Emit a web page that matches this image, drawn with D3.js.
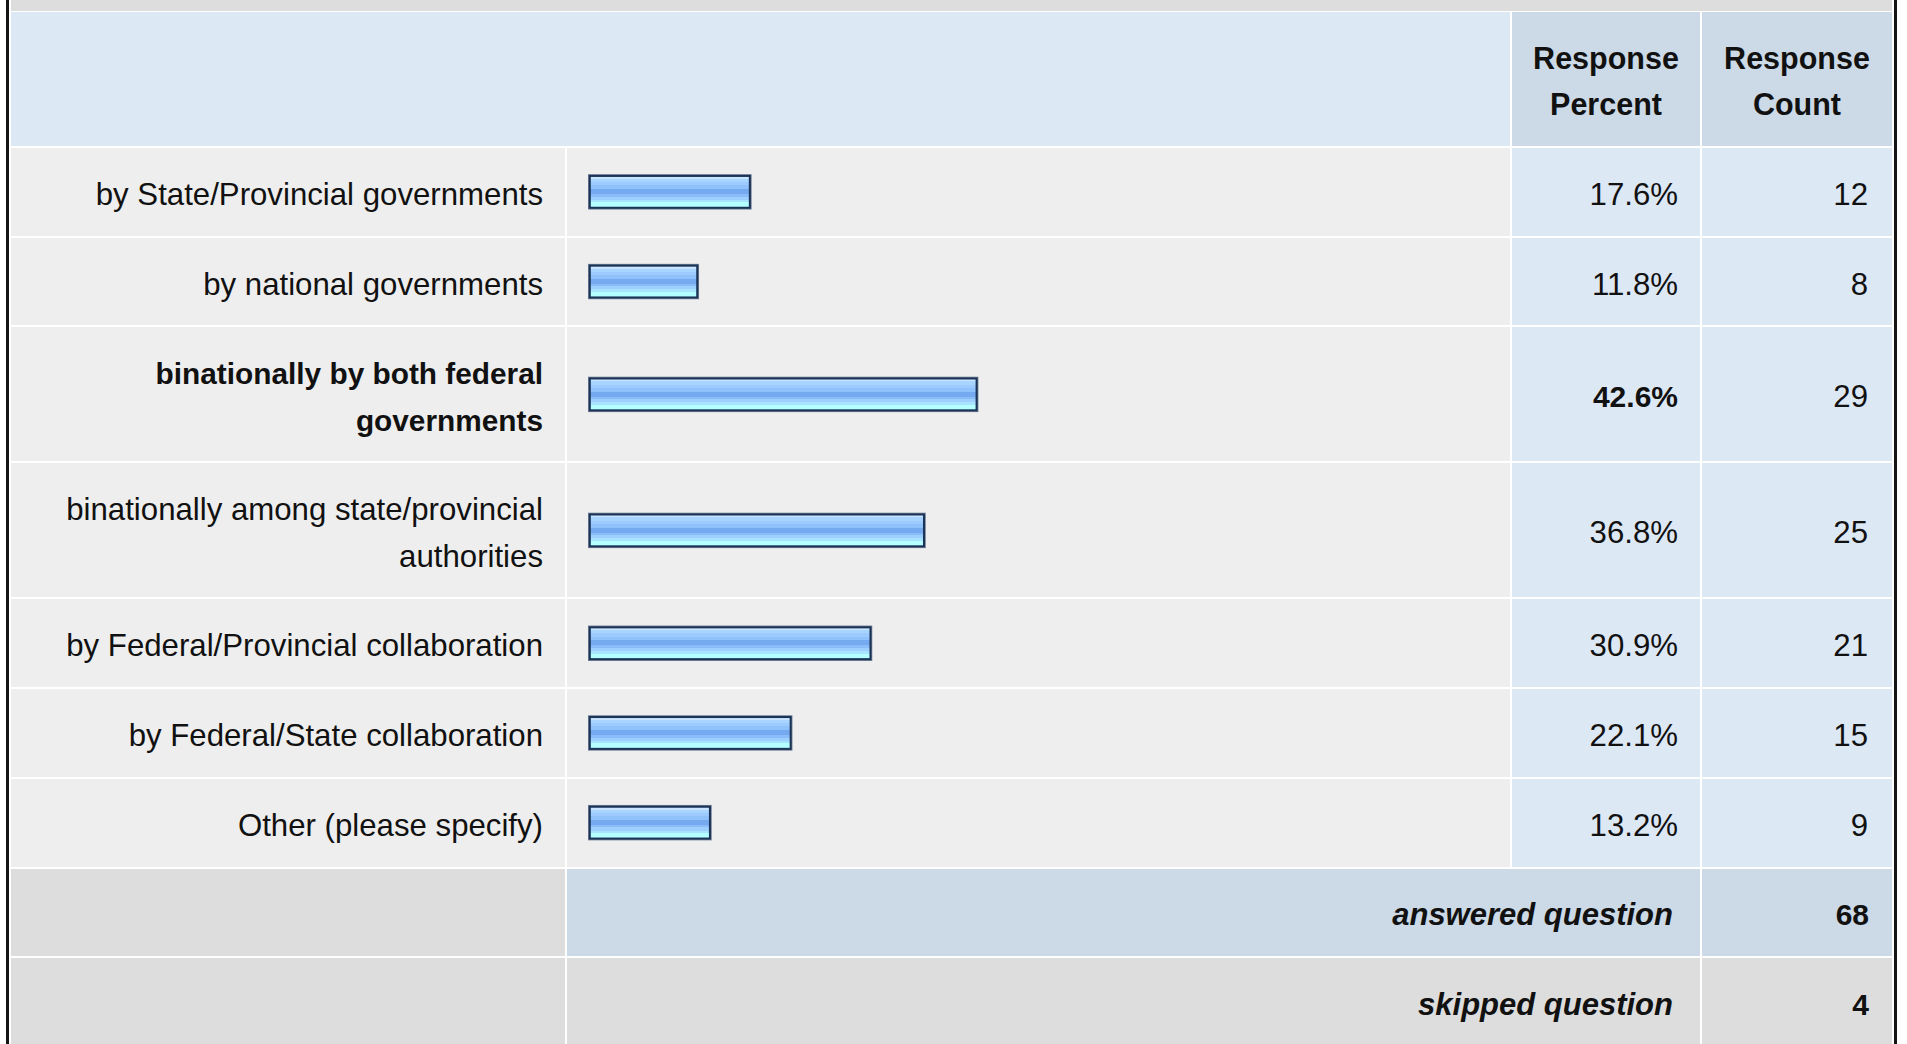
<!DOCTYPE html>
<html><head><meta charset="utf-8">
<script src="https://cdn.jsdelivr.net/npm/d3@7"></script>
<style>body{margin:0;background:#fff;overflow:hidden}</style>
</head><body>
<svg id="chart" width="1907" height="1044"></svg>
<script>
// ---- data ----
const categories = [
  "by State/Provincial governments",
  "by national governments",
  "binationally by both federal governments",
  "binationally among state/provincial authorities",
  "by Federal/Provincial collaboration",
  "by Federal/State collaboration",
  "Other (please specify)"
];
const percents = [17.6, 11.8, 42.6, 36.8, 30.9, 22.1, 13.2];
const counts = [12, 8, 29, 25, 21, 15, 9];
const headerLabels = ["Response Percent", "Response Count"];
const footerLabels = ["answered question", "skipped question"];
const footerValues = [68, 4];

// ---- layout ----
const W = 1907, H = 1044;
const FS = 31.2, FS_BOLD = 29.8, FS_HEAD = 30.5, FS_FOOT = 31;
const LH = 46.3;
const FONT = "'Liberation Sans', Arial, Helvetica, sans-serif";
const GAP = 2;
const colX = [11, 567, 1512, 1702];
const colW = [554, 943, 188, 190];
const PAD = 22;
const C_LIGHT = "#dde8f5", C_HEAD = "#ccd9e7", C_GREY = "#eeeeee", C_FOOT = "#dddddd", C_TEXT = "#111";

const svg = d3.select("#chart");

// gradient for bars
const defs = svg.append("defs");
const grad = defs.append("linearGradient").attr("id", "barGrad")
  .attr("x1", 0).attr("y1", 0).attr("x2", 0).attr("y2", 1);
const gstops = [
  [0, "#c9e4ff"], [0.064, "#c9e4ff"], [0.064, "#a8d5ff"], [0.17, "#a8d5ff"],
  [0.17, "#9dcbff"], [0.277, "#9dcbff"], [0.277, "#8fc1fb"], [0.404, "#8fc1fb"],
  [0.404, "#76aaf0"], [0.574, "#76aaf0"], [0.574, "#89bcf8"], [0.66, "#89bcf8"],
  [0.66, "#9dd0ff"], [0.766, "#9dd0ff"], [0.766, "#a8e3ff"], [0.85, "#a8e3ff"],
  [0.85, "#b4ffff"], [1, "#b4ffff"]
];
grad.selectAll("stop").data(gstops).join("stop")
  .attr("offset", d => d[0]).attr("stop-color", d => d[1]);

// measuring helper for wrapping
const meas = svg.append("text").attr("font-family", FONT).attr("visibility", "hidden");
function wrap(str, maxW, weight, fs) {
  meas.attr("font-weight", weight).attr("font-size", fs);
  const words = str.split(" ");
  const lines = [];
  let cur = "";
  words.forEach(w => {
    const t = cur ? cur + " " + w : w;
    meas.text(t);
    if (meas.node().getComputedTextLength() > maxW && cur) { lines.push(cur); cur = w; }
    else cur = t;
  });
  if (cur) lines.push(cur);
  return lines;
}
const rowH = n => 41.4 + LH * n;

const maxP = d3.max(percents);
const rows = categories.map((c, i) => {
  const bold = percents[i] === maxP;
  const lines = wrap(c, colW[0] - 2 * PAD - 10, bold ? "bold" : "normal", bold ? FS_BOLD : FS);
  return { label: c, lines, pct: percents[i], cnt: counts[i], bold };
});

// header lines
const headLines = headerLabels.map((h, k) => wrap(h, colW[2 + k] - 40, "bold", FS_HEAD));
const headerH = rowH(d3.max(headLines, l => l.length));

// vertical positions
let y = 12;
const headerY = y; y += headerH + GAP;
rows.forEach(r => { r.h = rowH(r.lines.length); r.y = y; y += r.h + GAP; });
const footY = [];
footerLabels.forEach(() => { footY.push(y); y += rowH(1) + GAP; });

const g = svg.append("g");
function cell(x, yy, w, h, fill) {
  g.append("rect").attr("x", x).attr("y", yy).attr("width", w).attr("height", h)
    .attr("fill", fill).attr("shape-rendering", "crispEdges");
}
function txt(lines, x, cy, anchor, weight, style, fs) {
  const n = lines.length;
  const t = g.append("text").attr("font-family", FONT).attr("font-size", fs)
    .attr("fill", C_TEXT).attr("text-anchor", anchor)
    .attr("font-weight", weight || "normal").attr("font-style", style || "normal");
  lines.forEach((l, i) => {
    t.append("tspan").attr("x", x).attr("y", cy + (i - (n - 1) / 2) * LH + 13).text(l);
  });
}

// top band (cut-off row above)
cell(colX[0], -20, colX[3] + colW[3] - colX[0], 30.6, C_FOOT);

// header
cell(colX[0], headerY, colX[1] + colW[1] - colX[0], headerH, C_LIGHT);
[2, 3].forEach((c, k) => {
  cell(colX[c], headerY, colW[c], headerH, C_HEAD);
  txt(headLines[k], colX[c] + colW[c] / 2, headerY + headerH / 2, "middle", "bold", "normal", FS_HEAD);
});

// scale for bars
const x = d3.scaleLinear().domain([0, 100]).range([0, 907]);
const barX0 = colX[1] + 21;
const BAR_H = 35.4;

rows.forEach(r => {
  const cy = r.y + r.h / 2;
  cell(colX[0], r.y, colW[0], r.h, C_GREY);
  cell(colX[1], r.y, colW[1], r.h, C_GREY);
  cell(colX[2], r.y, colW[2], r.h, C_LIGHT);
  cell(colX[3], r.y, colW[3], r.h, C_LIGHT);
  txt(r.lines, colX[0] + colW[0] - PAD, cy, "end", r.bold ? "bold" : "normal", "normal", r.bold ? FS_BOLD : FS);
  txt([d3.format(".1f")(r.pct) + "%"], colX[2] + colW[2] - PAD, cy, "end", r.bold ? "bold" : "normal", "normal", r.bold ? 30 : FS);
  txt([String(r.cnt)], colX[3] + colW[3] - PAD - 2, cy, "end", "normal", "normal", FS);
  // bar
  const bw = x(r.pct) + 4;
  const by = cy - BAR_H / 2;
  g.append("rect").attr("x", barX0).attr("y", by).attr("width", bw).attr("height", BAR_H)
    .attr("fill", "#6d7d96");
  g.append("rect").attr("x", barX0 + 0.8).attr("y", by + 0.8).attr("width", bw - 1.6).attr("height", BAR_H - 1.6)
    .attr("fill", "#1b3355");
  g.append("rect").attr("x", barX0 + 2.8).attr("y", by + 2.8).attr("width", bw - 5.6).attr("height", BAR_H - 5.6)
    .attr("fill", "url(#barGrad)");
});

// footer rows
footerLabels.forEach((lab, k) => {
  const yy = footY[k], h = rowH(1), cy = yy + h / 2;
  const spanFill = k === 0 ? C_HEAD : C_FOOT;
  cell(colX[0], yy, colW[0], h, C_FOOT);
  cell(colX[1], yy, colX[2] + colW[2] - colX[1], h, spanFill);
  cell(colX[3], yy, colW[3], h, spanFill);
  txt([lab], colX[2] + colW[2] - PAD - 5, cy, "end", "bold", "italic", FS_FOOT);
  txt([String(footerValues[k])], colX[3] + colW[3] - PAD - 1, cy, "end", "bold", "normal", 30);
});

// outer black borders
svg.append("rect").attr("x", 6).attr("y", 0).attr("width", 3).attr("height", H).attr("fill", "#151515");
svg.append("rect").attr("x", 1894).attr("y", 0).attr("width", 3).attr("height", H).attr("fill", "#151515");
meas.remove();
</script>
</body></html>
